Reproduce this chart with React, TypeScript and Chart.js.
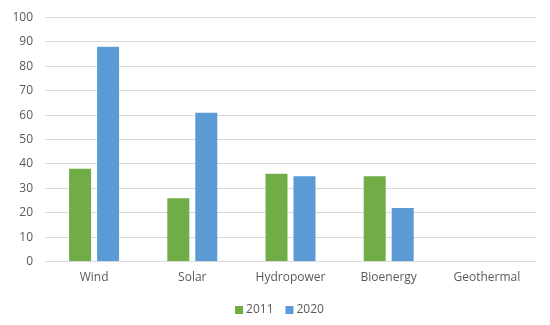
import React, { useEffect, useRef } from "react";
import { Chart, registerables } from "chart.js";

Chart.register(...registerables);

const categories = ["Wind", "Solar", "Hydropower", "Bioenergy", "Geothermal"];
const series2011 = [38, 26, 36, 35, 0];
const series2020 = [88, 61, 35, 22, 0];
const yTicks = [0, 10, 20, 30, 40, 50, 60, 70, 80, 90, 100];

const FONT_FAMILY = "'Open Sans', sans-serif";
const TEXT_COLOR = "#595959";

const customLegend = {
  id: "customLegend",
  afterDraw(chart: any) {
    const ctx = chart.ctx;
    const items = chart.data.datasets.map((d: any) => ({
      text: d.label,
      color: d.backgroundColor,
    }));
    ctx.save();
    ctx.font = `12px ${FONT_FAMILY}`;
    const box = 8;
    const gap = 3;
    const spacing = 12;
    const widths = items.map((it: any) => box + gap + ctx.measureText(it.text).width);
    const total = widths.reduce((a: number, b: number) => a + b, 0) + spacing * (items.length - 1);
    const cx = 279.5;
    const cy = 310;
    let x = cx - total / 2;
    items.forEach((it: any, i: number) => {
      ctx.fillStyle = it.color;
      ctx.fillRect(x, cy - box / 2, box, box);
      ctx.fillStyle = TEXT_COLOR;
      ctx.textBaseline = "middle";
      ctx.textAlign = "left";
      ctx.fillText(it.text, x + box + gap, cy);
      x += widths[i] + spacing;
    });
    ctx.restore();
  },
};

export default function App() {
  const ref = useRef<HTMLCanvasElement | null>(null);
  useEffect(() => {
    if (!ref.current) return;
    const font = { family: FONT_FAMILY, size: 12 };
    const chart = new Chart(ref.current, {
      type: "bar",
      data: {
        labels: categories,
        datasets: [
          {
            label: "2011",
            data: series2011,
            backgroundColor: "#70AD47",
            categoryPercentage: 0.57,
            barPercentage: 0.786,
          },
          {
            label: "2020",
            data: series2020,
            backgroundColor: "#5B9BD5",
            categoryPercentage: 0.57,
            barPercentage: 0.786,
          },
        ],
      },
      plugins: [customLegend],
      options: {
        animation: false,
        responsive: true,
        maintainAspectRatio: false,
        layout: { padding: { top: 17.5, right: 14, left: 0, bottom: 31 } },
        plugins: {
          tooltip: { enabled: false },
          legend: { display: false },
        },
        scales: {
          x: {
            grid: { display: false, drawTicks: false },
            border: { display: false },
            ticks: { color: TEXT_COLOR, font, padding: 9 },
          },
          y: {
            min: 0,
            max: 100,
            afterBuildTicks: (s: any) => {
              s.ticks = yTicks.map((v) => ({ value: v }));
            },
            afterFit: (s: any) => {
              s.width = 45;
              s.paddingTop = 0;
              s.paddingBottom = 0;
            },
            grid: { color: "#D9D9D9", lineWidth: 1, drawTicks: false },
            border: { display: false },
            ticks: { color: TEXT_COLOR, font, padding: 12 },
          },
        },
      },
    });
    return () => chart.destroy();
  }, []);
  return (
    <div style={{ position: "fixed", left: 0, top: 0, width: 550, height: 325, background: "#fff" }}>
      <canvas ref={ref} />
    </div>
  );
}
